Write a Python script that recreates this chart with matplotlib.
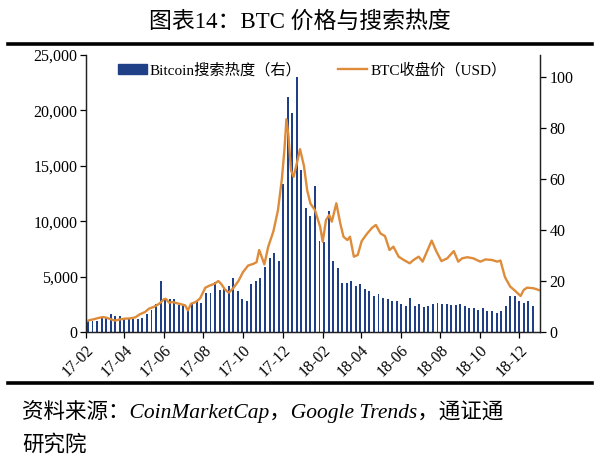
import pandas as pd
import matplotlib
matplotlib.use('Agg')
import matplotlib.pyplot as plt
import matplotlib.dates as mdates
from matplotlib.lines import Line2D
from matplotlib.patches import Patch
from matplotlib.ticker import FuncFormatter

FONT = ['Liberation Serif', 'Noto Sans CJK SC']
plt.rcParams['font.family'] = FONT

# Google Trends weekly search interest (right axis), weeks ending Saturday
trend_first_week = '2017-02-04'
trend_values = [
    4.4, 4.4, 4.5, 5.4, 5.7, 7.1, 6.3, 6.3, 5.0, 5.4,
    5.0, 5.0, 5.4, 7.1, 8.6, 11.0, 20.0, 12.9, 12.9, 12.9,
    10.6, 10.8, 8.8, 11.0, 12.0, 11.2, 15.2, 15.1, 19.5, 16.3,
    17.0, 18.0, 21.0, 16.1, 13.0, 12.3, 19.0, 20.0, 21.0, 25.5,
    29.0, 31.0, 28.0, 58.0, 92.0, 86.0, 100.0, 63.5, 48.5, 45.6,
    57.4, 35.7, 35.2, 47.5, 28.0, 25.0, 19.1, 19.1, 20.0, 18.1,
    19.0, 17.0, 16.1, 14.1, 15.0, 13.2, 13.1, 12.2, 12.2, 11.1,
    10.2, 13.2, 10.2, 11.1, 9.8, 10.2, 11.1, 11.5, 11.0, 11.0,
    10.6, 10.6, 11.0, 10.2, 9.3, 9.3, 8.6, 9.3, 8.3, 8.3,
    7.3, 8.3, 10.0, 14.1, 14.1, 12.2, 11.2, 12.2, 10.2,
]

# BTC close price (left axis)
price_dates = [
    '2017-02-01', '2017-02-07', '2017-02-13', '2017-02-19', '2017-02-27',
    '2017-03-05', '2017-03-12', '2017-03-18', '2017-03-24', '2017-04-01',
    '2017-04-10', '2017-04-18', '2017-04-25', '2017-05-03', '2017-05-09',
    '2017-05-17', '2017-05-25', '2017-06-01', '2017-06-04', '2017-06-09',
    '2017-06-15', '2017-06-21', '2017-06-28', '2017-07-04', '2017-07-08',
    '2017-07-13', '2017-07-20', '2017-07-27', '2017-08-04', '2017-08-11',
    '2017-08-18', '2017-08-24', '2017-08-29', '2017-09-03', '2017-09-09',
    '2017-09-16', '2017-09-24', '2017-10-01', '2017-10-09', '2017-10-17',
    '2017-10-22', '2017-10-26', '2017-10-31', '2017-11-03', '2017-11-09',
    '2017-11-17', '2017-11-24', '2017-11-30', '2017-12-04', '2017-12-07',
    '2017-12-10', '2017-12-14', '2017-12-18', '2017-12-23', '2017-12-28',
    '2018-01-03', '2018-01-08', '2018-01-13', '2018-01-20', '2018-01-28',
    '2018-02-01', '2018-02-06', '2018-02-11', '2018-02-15', '2018-02-22',
    '2018-02-28', '2018-03-05', '2018-03-11', '2018-03-15', '2018-03-21',
    '2018-03-27', '2018-04-02', '2018-04-10', '2018-04-18', '2018-04-24',
    '2018-05-01', '2018-05-08', '2018-05-15', '2018-05-21', '2018-05-29',
    '2018-06-06', '2018-06-15', '2018-06-21', '2018-06-29', '2018-07-05',
    '2018-07-12', '2018-07-19', '2018-07-26', '2018-08-03', '2018-08-12',
    '2018-08-22', '2018-08-29', '2018-09-04', '2018-09-12', '2018-09-21',
    '2018-10-02', '2018-10-10', '2018-10-20', '2018-10-28', '2018-11-02',
    '2018-11-09', '2018-11-17', '2018-11-25', '2018-12-03', '2018-12-08',
    '2018-12-13', '2018-12-23', '2019-01-02',
]
price_values = [
    950, 1080, 1150, 1250, 1350,
    1280, 1130, 1030, 1120, 1200,
    1230, 1320, 1600, 1800, 2100,
    2280, 2550, 2950, 3000, 2650,
    2700, 2600, 2500, 2400, 1950,
    2550, 2700, 3040, 4000, 4200,
    4350, 4600, 4300, 3850, 3550,
    3950, 4600, 5400, 6000, 6150,
    6300, 7400, 6600, 6100, 7700,
    9100, 11000, 13800, 16500, 19200,
    17800, 14600, 14000, 15200, 16500,
    15000, 12800, 11600, 11000, 9500,
    8150, 10100, 10560, 9955, 11615,
    9810, 8600, 8300, 8600, 6800,
    6950, 8200, 8850, 9400, 9660,
    8900, 8650, 7400, 7700, 6800,
    6500, 6200, 6500, 6800, 6350,
    7300, 8250, 7300, 6400, 6650,
    7300, 6350, 6650, 6750, 6650,
    6350, 6550, 6500, 6350, 6450,
    4950, 4100, 3700, 3250, 3800,
    4000, 3950, 3750,
]

BAR_COLOR = '#1f3f86'
LINE_COLOR = '#de8b3a'

trend_dates = pd.date_range(trend_first_week, periods=len(trend_values), freq='7D')
pdates = pd.to_datetime(price_dates)

fig = plt.figure(figsize=(6, 4.7), dpi=100)
ax = fig.add_axes([86 / 600, 1 - 332 / 470, 454 / 600, 277 / 470])
ax2 = ax.twinx()

ax2.bar(trend_dates, trend_values, width=3, color=BAR_COLOR, linewidth=0)
ax.plot(pdates, price_values, color=LINE_COLOR, lw=1.7, solid_joinstyle='round')

# line above the bars
ax.set_zorder(ax2.get_zorder() + 1)
ax.patch.set_visible(False)

ax.set_xlim(pd.Timestamp('2017-02-01'), pd.Timestamp('2019-01-02'))
ax.set_ylim(0, 25000)
ax2.set_ylim(0, 108.6)
ax.set_yticks(range(0, 25001, 5000))
ax.yaxis.set_major_formatter(FuncFormatter(lambda v, p: f'{int(v):,}'))
ax2.set_yticks(range(0, 101, 20))

ax.xaxis.set_major_locator(mdates.MonthLocator(bymonth=[2, 4, 6, 8, 10, 12]))
ax.xaxis.set_major_formatter(mdates.DateFormatter('%y-%m'))
for lab in ax.get_xticklabels():
    lab.set_rotation(45)
    lab.set_ha('right')
    lab.set_rotation_mode('anchor')

for a in (ax, ax2):
    a.spines['top'].set_visible(False)
    for s in a.spines.values():
        s.set_linewidth(0.9)
        s.set_color('#222222')
ax.tick_params(axis='y', labelsize=11.5, length=4, width=0.9, pad=2)
ax.tick_params(axis='x', labelsize=11.5, length=4, width=0.9, pad=3)
ax2.tick_params(axis='y', labelsize=11.5, length=4, width=0.9, pad=3)

handles = [Patch(color=BAR_COLOR), Line2D([], [], color=LINE_COLOR, lw=1.7)]
labels = ['Bitcoin搜索热度（右）', 'BTC收盘价（USD）']
ax.legend(handles, labels, loc='center', bbox_to_anchor=(0.498, 0.946), ncol=2,
          frameon=False, fontsize=11, handlelength=1.9, handleheight=0.55,
          columnspacing=2.4, handletextpad=0.2)

fig.text(0.5, 1 - 22 / 470, '图表14：BTC 价格与搜索热度', ha='center', va='center',
         fontsize=16.5)
fig.add_artist(Line2D([8 / 600, 592 / 600], [1 - 44 / 470] * 2, lw=2.6, color='black'))
fig.add_artist(Line2D([8 / 600, 592 / 600], [1 - 383 / 470] * 2, lw=2.6, color='black'))

fig.text(22 / 600, 1 - 412 / 470, '资料来源：CoinMarketCap，Google Trends，通证通',
         ha='left', va='center', fontsize=15.5, style='italic')
fig.text(22 / 600, 1 - 445 / 470, '研究院', ha='left', va='center', fontsize=15.5,
         style='italic')

fig.savefig('out.png', dpi=100)
